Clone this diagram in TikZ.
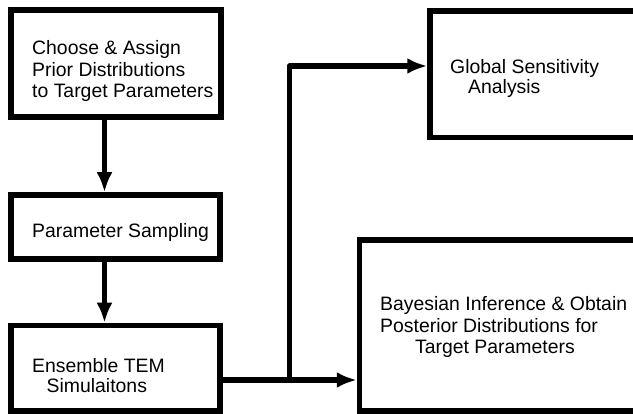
\documentclass[tikz,border=0pt]{standalone}
\usepackage{fontspec}
\setmainfont{Liberation Sans}
\usetikzlibrary{arrows.meta}
\begin{document}
\begin{tikzpicture}[x=1pt,y=-1pt,
  box/.style={draw=black, line width=5.5pt, inner sep=0pt, fill=white},
  lbl/.style={anchor=base west, inner sep=0pt, font=\fontsize{19.4}{22}\selectfont},
  flow/.style={line width=5.5pt, -{Latex[length=20pt,width=16pt]}, line join=round},
  wire/.style={line width=5.5pt, line join=round}]
\useasboundingbox (0,0) rectangle (633,414);
\fill[white] (0,0) rectangle (633,414);
\clip (0,0) rectangle (633,414);
% boxes
\node[box, minimum width=210pt, minimum height=107pt] (prior) at (116,63.5) {};
\node[box, minimum width=209pt, minimum height=64pt] (samp) at (115.5,227) {};
\node[box, minimum width=209pt, minimum height=85.5pt] (ens) at (115.5,368.25) {};
\node[box, minimum width=290pt, minimum height=126.5pt] (gsa) at (575,74.25) {};
\node[box, minimum width=360.5pt, minimum height=171pt] (bayes) at (539.75,325.5) {};
% texts
\node[lbl] (p1) at (32,55) {Choose \& Assign};
\node[lbl] (p2) at (32,76.7) {Prior Distributions};
\node[lbl] (p3) at (32,97.8) {to Target Parameters};
\node[lbl] (s1) at (32,237.5) {Parameter Sampling};
\node[lbl] (e1) at (32,373) {Ensemble TEM};
\node[lbl] (e2) at (46.5,392.5) {Simulaitons};
\node[lbl] (g1) at (450,73.5) {Global Sensitivity};
\node[lbl] (g2) at (468,94) {Analysis};
\node[lbl] (b1) at (380,310.5) {Bayesian Inference \& Obtain};
\node[lbl] (b2) at (380,332.5) {Posterior Distributions for};
\node[lbl] (b3) at (415,354) {Target Parameters};
% connectors
\coordinate (ax) at (104.5,0);
\coordinate (j) at (289.5,380);
\coordinate (k) at (289.5,66);
\draw[flow] (prior.south -| ax) -- (samp.north -| ax);
\draw[flow] (samp.south -| ax) -- (ens.north -| ax);
\draw[flow] (j -| ens.east) -- (j -| bayes.west);
\draw[flow] (j) -- (k) -- (k -| gsa.west);
\end{tikzpicture}
\end{document}
